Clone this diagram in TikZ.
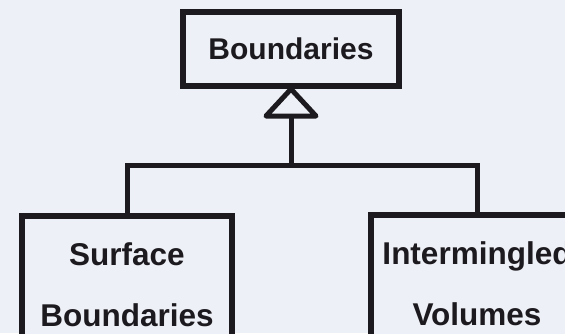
\documentclass[tikz,border=0pt]{standalone}
\usepackage{fontspec}
\setmainfont{Liberation Sans}
\definecolor{bg}{RGB}{238,240,247}
\definecolor{ink}{RGB}{28,26,30}
\begin{document}
\begin{tikzpicture}[x=1pt,y=-1pt,
  box/.style={draw=ink, line width=6pt, fill=bg, rectangle, inner sep=0pt, align=center, text=ink},
  conn/.style={draw=ink, line width=5pt}]
\path[use as bounding box, fill=bg] (0,0) rectangle (565,333);
\begin{scope}
\clip (0,0) rectangle (565,333);
\node[box, minimum width=216pt, minimum height=74pt, font=\fontsize{30}{36}\selectfont\bfseries] (n) at (291,49) {Boundaries};
\node[box, minimum width=210pt, minimum height=138pt, font=\fontsize{31.5}{61}\selectfont\bfseries] (s) at (127,285) {Surface\\Boundaries};
\node[box, minimum width=212pt, minimum height=138pt, font=\fontsize{31.5}{61}\selectfont\bfseries] (v) at (477,284) {Intermingled\\Volumes};
\coordinate (bus) at (291,165);
\draw[conn] (s.north) |- (bus) -| (v.north);
\draw[conn] (bus) -- (n.south);
\draw[conn, fill=bg, line join=round] (n.south) -- ++(-25,27) -- ++(50,0) -- cycle;
\end{scope}
\end{tikzpicture}
\end{document}
